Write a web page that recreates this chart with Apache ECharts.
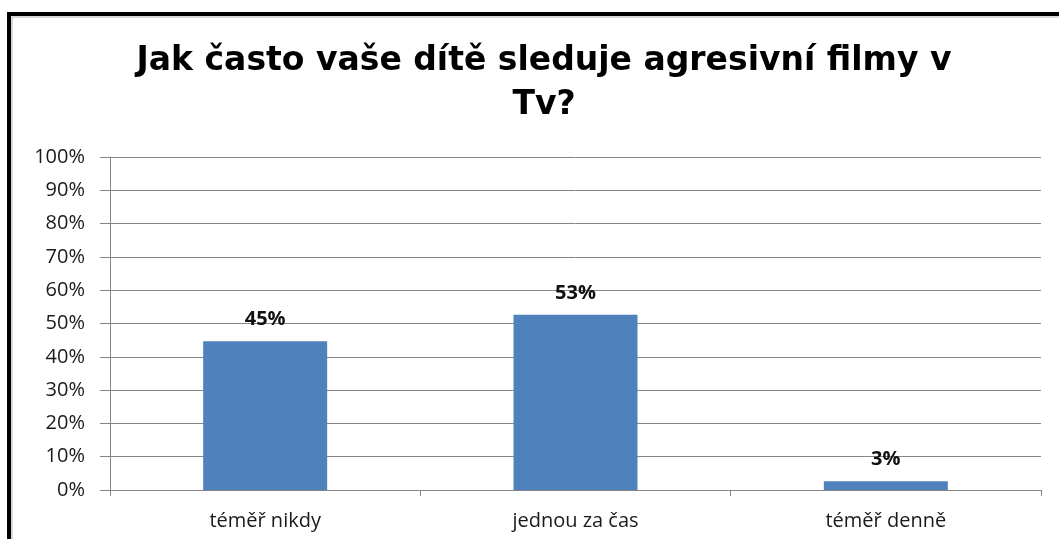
<!DOCTYPE html>
<html>
<head>
<meta charset="utf-8">
<style>
  html, body { margin: 0; padding: 0; background: #ffffff; }
  #chart { width: 1059px; height: 539px; }
</style>
<script src="https://cdn.jsdelivr.net/npm/echarts@6/dist/echarts.min.js"></script>
</head>
<body>
<div id="chart"></div>
<script>
// Survey answers and their shares (percent of respondents)
const chartTitle = 'Jak často vaše dítě sleduje agresivní filmy v\nTv?';
const categories = ['téměř nikdy', 'jednou za čas', 'téměř denně'];
const shares = [44.7, 52.6, 2.6];
const yTicks = [0, 10, 20, 30, 40, 50, 60, 70, 80, 90, 100];

const chart = echarts.init(document.getElementById('chart'), null, { renderer: 'canvas' });

const option = {
  animation: false,
  backgroundColor: '#ffffff',
  title: {
    text: chartTitle,
    left: 539,
    top: 34,
    textAlign: 'center',
    textStyle: {
      fontFamily: '"DejaVu Sans"',
      fontWeight: 'bold',
      fontSize: 33,
      lineHeight: 44,
      color: '#000000'
    }
  },
  graphic: [
    {
      type: 'rect',
      silent: true,
      shape: { x: 9, y: 14, width: 1200, height: 700 },
      style: { fill: null, stroke: '#000000', lineWidth: 4 }
    },
    {
      type: 'rect',
      silent: true,
      shape: { x: 12, y: 17, width: 1200, height: 700 },
      style: { fill: null, stroke: '#b0b0b0', lineWidth: 1 }
    }
  ],
  grid: {
    left: 110,
    right: 18,
    top: 157,
    bottom: 49,
    containLabel: false
  },
  xAxis: {
    type: 'category',
    data: categories,
    axisLine: { show: true, lineStyle: { color: '#868686', width: 1 } },
    axisTick: { show: true, length: 6, alignWithLabel: false, lineStyle: { color: '#868686' } },
    axisLabel: {
      margin: 21,
      fontFamily: '"Open Sans"',
      fontSize: 20,
      color: '#1a1a1a'
    },
    splitLine: { show: false }
  },
  yAxis: {
    type: 'value',
    min: yTicks[0],
    max: yTicks[yTicks.length - 1],
    interval: 10,
    axisLine: { show: true, lineStyle: { color: '#868686', width: 1 } },
    axisTick: { show: true, length: 10, inside: false, lineStyle: { color: '#868686' } },
    axisLabel: {
      margin: 25,
      fontFamily: '"Open Sans"',
      fontSize: 20,
      color: '#1a1a1a',
      formatter: v => v + '%'
    },
    splitLine: { show: true, lineStyle: { color: '#868686', width: 1 } }
  },
  series: [
    {
      type: 'bar',
      data: shares,
      barWidth: 124,
      itemStyle: { color: '#4f81bd' },
      label: {
        show: true,
        position: 'top',
        distance: 12,
        fontFamily: '"Open Sans"',
        fontWeight: 'bold',
        fontSize: 20,
        color: '#111111',
        formatter: p => Math.round(p.value) + '%'
      }
    }
  ]
};

chart.setOption(option);
</script>
</body>
</html>
